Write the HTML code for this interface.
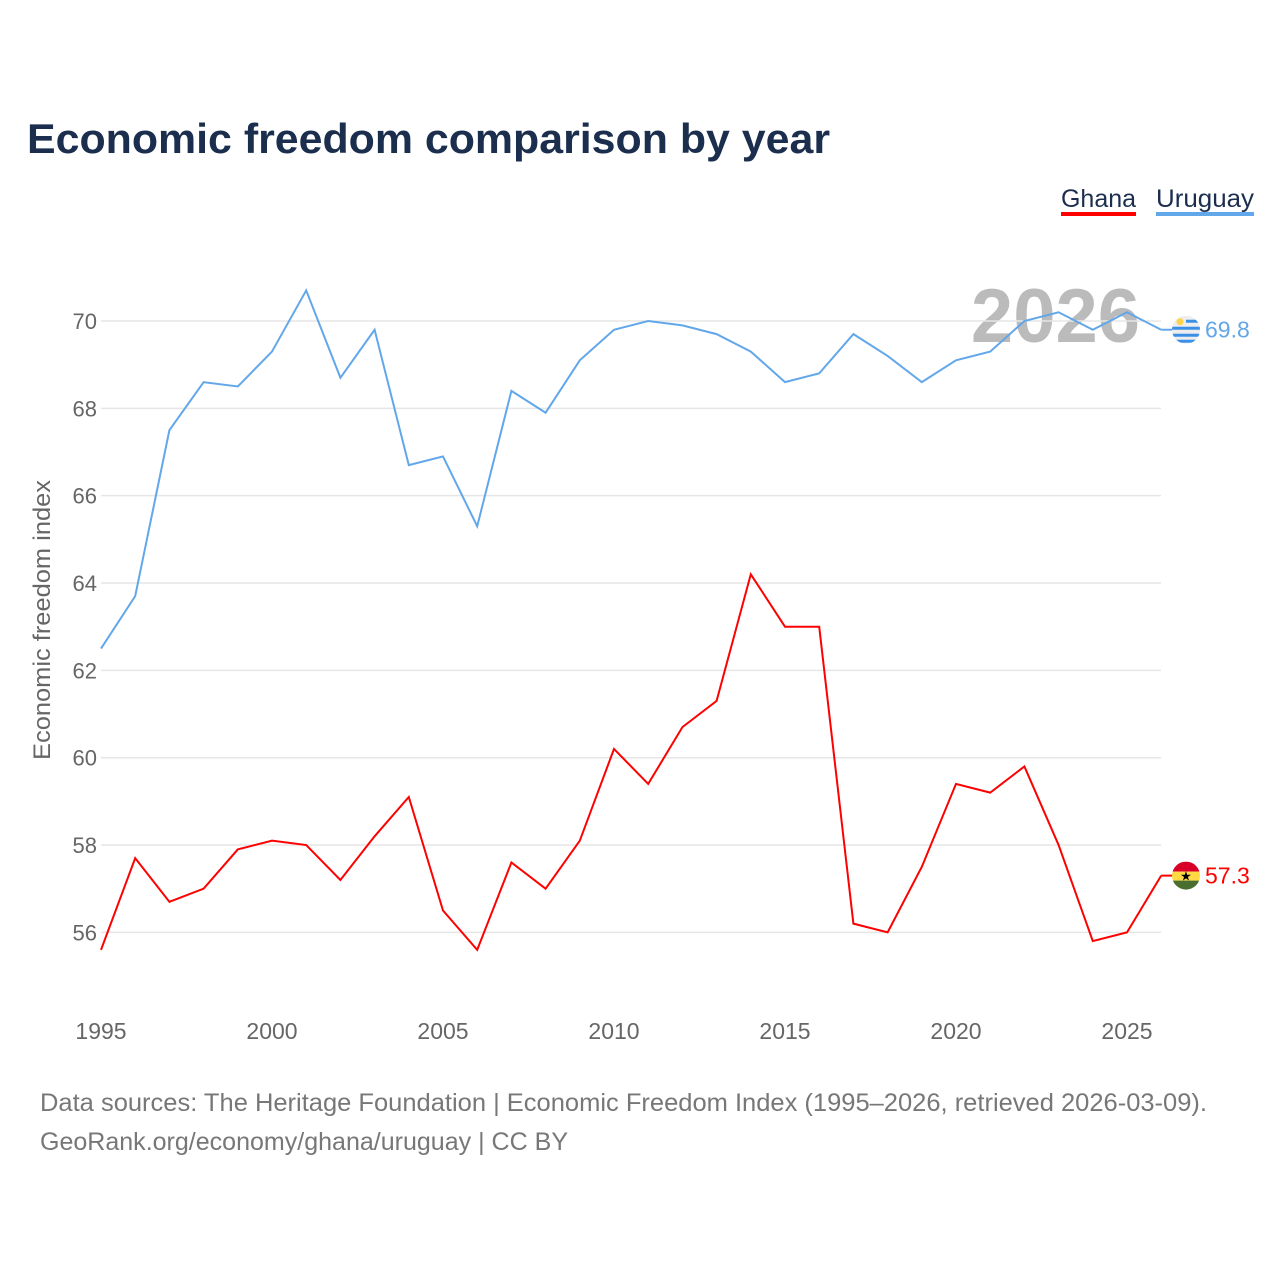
<!DOCTYPE html>
<html><head><meta charset="utf-8"><style>
body{margin:0;background:#fff;width:1280px;height:1280px;overflow:hidden;font-family:"Liberation Sans",sans-serif}
</style></head><body>
<svg id="c" width="1280" height="1280" xmlns="http://www.w3.org/2000/svg">
<text x="27" y="153" font-size="42" font-weight="bold" fill="#1b2e4e" textLength="803" lengthAdjust="spacingAndGlyphs">Economic freedom comparison by year</text>
<g><text x="1061" y="207" font-size="25" fill="#1b2e4e" textLength="75" lengthAdjust="spacingAndGlyphs">Ghana</text><rect x="1061" y="212" width="75" height="4" fill="#ff0000"/></g>
<g><text x="1156" y="207" font-size="25" fill="#1b2e4e" textLength="98" lengthAdjust="spacingAndGlyphs">Uruguay</text><rect x="1156" y="212" width="98" height="4" fill="#62a7ea"/></g>
<text x="1140" y="342" font-size="76" font-weight="bold" fill="#bbbbbb" text-anchor="end">2026</text>
<g id="grid"></g><g id="lines"></g>
<text transform="translate(50,620) rotate(-90)" font-size="24" fill="#666" text-anchor="middle" textLength="280" lengthAdjust="spacingAndGlyphs">Economic freedom index</text>
<text x="40" y="1111" font-size="25" fill="#777" textLength="1167" lengthAdjust="spacingAndGlyphs">Data sources: The Heritage Foundation | Economic Freedom Index (1995–2026, retrieved 2026-03-09).</text>
<text x="40" y="1150" font-size="25" fill="#777" textLength="528" lengthAdjust="spacingAndGlyphs">GeoRank.org/economy/ghana/uruguay | CC BY</text>
</svg>
<script>
const years=[1995,1996,1997,1998,1999,2000,2001,2002,2003,2004,2005,2006,2007,2008,2009,2010,2011,2012,2013,2014,2015,2016,2017,2018,2019,2020,2021,2022,2023,2024,2025,2026];
const uruguay=[62.5,63.7,67.5,68.6,68.5,69.3,70.7,68.7,69.8,66.7,66.9,65.3,68.4,67.9,69.1,69.8,70.0,69.9,69.7,69.3,68.6,68.8,69.7,69.2,68.6,69.1,69.3,70.0,70.2,69.8,70.2,69.8];
const ghana=[55.6,57.7,56.7,57.0,57.9,58.1,58.0,57.2,58.2,59.1,56.5,55.6,57.6,57.0,58.1,60.2,59.4,60.7,61.3,64.2,63.0,63.0,56.2,56.0,57.5,59.4,59.2,59.8,58.0,55.8,56.0,57.3];
const yTicks=[56,58,60,62,64,66,68,70];
const xTicks=[1995,2000,2005,2010,2015,2020,2025];
const NS="http://www.w3.org/2000/svg";
const X=v=>101+(v-1995)*34.2, Y=v=>321+(70-v)*43.67;
const grid=document.getElementById('grid'), lines=document.getElementById('lines');
function mk(tag,at,par){const e=document.createElementNS(NS,tag);for(const k in at)e.setAttribute(k,at[k]);par.appendChild(e);return e;}
yTicks.forEach(t=>{
 const l=mk('line',{x1:101,x2:1161,y1:Y(t),y2:Y(t),stroke:'#e6e6e6','stroke-width':1.5},grid);
 
 
 const tx=mk('text',{x:97,y:Y(t)+8,'font-size':22,fill:'#666','text-anchor':'end'},grid);tx.textContent=t;
 
 
});
xTicks.forEach(t=>{
 const tx=mk('text',{x:X(t),y:1039,'font-size':23,fill:'#666','text-anchor':'middle'},grid);tx.textContent=t;
 
 
});
function series(vals,col,name){
 const p=mk('polyline',{points:vals.map((v,i)=>X(years[i])+','+Y(v)).join(' '),fill:'none',stroke:col,'stroke-width':2},lines);
 
 
 const last=vals[vals.length-1], lx=X(years[years.length-1]), ly=Y(last);
 mk('line',{x1:lx,x2:lx+12,y1:ly,y2:ly,stroke:col,'stroke-width':2},lines);
 const t=mk('text',{x:1205,y:ly+8,'font-size':23,fill:col},lines);t.textContent=last.toFixed(1);
 
 
 return ly;
}
const uy=series(uruguay,'#62a7ea','uruguay');
const gy=series(ghana,'#ff0000','ghana');
let g=mk('g',{},lines);


const cu=mk('clipPath',{id:'cu'},g);mk('circle',{cx:1186,cy:uy,r:14},cu);
const gu=mk('g',{'clip-path':'url(#cu)'},g);
mk('rect',{x:1172,y:uy-14,width:28,height:28,fill:'#eeeeee'},gu);
mk('rect',{x:1186,y:uy-10,width:14,height:3,fill:'#3b8fe6'},gu);
mk('rect',{x:1172,y:uy-3,width:28,height:3,fill:'#3b8fe6'},gu);
mk('rect',{x:1172,y:uy+4,width:28,height:3,fill:'#3b8fe6'},gu);
mk('rect',{x:1172,y:uy+10,width:28,height:3,fill:'#3b8fe6'},gu);
mk('circle',{cx:1180,cy:uy-8,r:3.5,fill:'#ffd34a'},gu);
g=mk('g',{},lines);


const cp=mk('clipPath',{id:'cg'},g);mk('circle',{cx:1186,cy:gy,r:14},cp);
const gg=mk('g',{'clip-path':'url(#cg)'},g);
mk('rect',{x:1172,y:gy-14,width:28,height:10,fill:'#d80027'},gg);
mk('rect',{x:1172,y:gy-4,width:28,height:9,fill:'#ffda44'},gg);
mk('rect',{x:1172,y:gy+5,width:28,height:10,fill:'#496e2d'},gg);
const s=mk('text',{x:1186,y:gy+5,'font-size':13,'text-anchor':'middle',fill:'#000'},gg);s.textContent='★';
</script>
</body></html>
